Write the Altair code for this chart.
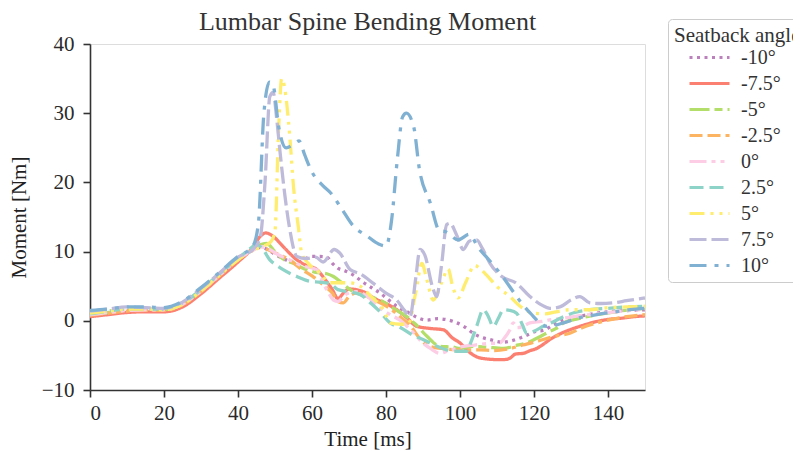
import altair as alt
import pandas as pd

SERIES = ["-10°", "-7.5°", "-5°", "-2.5°", "0°", "2.5°", "5°", "7.5°", "10°"]
COLORS = ["#bc80bd", "#fb8072", "#b3de69", "#fdb462", "#fccde5",
          "#8dd3c7", "#ffed6f", "#bebada", "#80b1d3"]
DASHES = [[3, 4.5], [1, 0], [20, 5, 8, 5], [13, 5, 13, 5, 4, 5], [17, 5, 4, 5, 4, 5],
          [14, 6], [15, 6, 3, 6, 3, 6], [17, 5], [17, 8, 4, 8]]

X_TICKS = [0, 20, 40, 60, 80, 100, 120, 140]
Y_TICKS = [-10, 0, 10, 20, 30, 40]

# -10 deg
T_N10 = [0, 5, 10, 15, 20, 25, 30, 35, 40, 44, 46, 48, 50, 53, 55.5, 58, 59.5, 62, 64, 65.5, 67, 69,
         71.2, 74, 78.4, 82.9, 86, 88, 91, 94, 96, 98.2, 101, 103.6, 105.4, 108, 111.7, 114.5, 117.1,
         120.7, 122.5, 125.2, 128, 132, 137, 142, 146, 150]
M_N10 = [0.9, 1.2, 1.5, 1.6, 1.6, 2.4, 4.4, 6.6, 8.9, 10.2, 10.6, 10.3, 9.6, 8.8, 8.4, 8.8, 9.3, 9.3,
         9.2, 8.3, 7.6, 7.2, 6.6, 5.5, 4.0, 2.1, 1.2, 0.6, 0.1, 0.3, 0.2, -0.1, -0.8, -1.8, -2.3, -2.7,
         -3.1, -2.8, -2.3, -1.5, -1.4, -0.6, 0.1, 0.6, 1.1, 1.4, 1.5, 1.6]
# -7.5 deg
T_N75 = [0, 5, 10, 15, 20, 25, 30, 35, 40, 44, 46, 47.5, 49.5, 51.4, 53.5, 55.9, 58.5, 61.3, 63.5,
         65.5, 67, 68.5, 70, 73.9, 77, 80, 82.9, 85.5, 88.3, 91.9, 95.5, 98, 100, 102, 104.5, 107,
         109.9, 112, 113.5, 115, 117.1, 119, 120.7, 122.5, 124.3, 127, 129.7, 133, 137, 140, 144.1,
         147, 150]
M_N75 = [0.6, 0.9, 1.2, 1.3, 1.3, 2.0, 3.9, 6.2, 8.5, 10.6, 12.2, 12.7, 12.2, 11.2, 10.0, 8.8, 8.0,
         7.4, 6.0, 4.5, 3.2, 4.0, 4.6, 4.2, 3.2, 2.5, 1.6, 0.5, -0.8, -1.1, -1.3, -2.5, -3.2, -4.3,
         -5.2, -5.5, -5.6, -5.6, -5.4, -4.8, -4.7, -4.3, -4.0, -3.4, -2.7, -1.9, -1.3, -0.7, -0.1,
         0.2, 0.4, 0.6, 0.7]
# -5 deg
T_N5 = [0, 5, 10, 15, 20, 25, 30, 35, 40, 44, 46, 47.7, 50, 52, 55, 58, 61, 64, 65.8, 68, 70.3, 73,
        75, 78.4, 82, 85.6, 88, 91, 94.6, 98, 100, 103.6, 107, 111.7, 115, 118, 121.6, 124, 126, 128,
        132, 137, 142, 146, 150]
M_N5 = [0.9, 1.2, 1.5, 1.6, 1.6, 2.4, 4.4, 6.7, 8.9, 10.3, 11.0, 11.2, 10.0, 9.0, 8.3, 7.5, 7.0, 6.8,
        6.4, 5.5, 4.5, 3.8, 3.5, 3.0, 1.8, 0.6, -0.5, -2.2, -3.7, -3.8, -4.0, -3.7, -3.8, -4.0, -3.6,
        -3.2, -2.3, -1.6, -1.1, -0.3, 0.3, 0.9, 1.3, 1.6, 1.8]
# -2.5 deg
T_N25 = [0, 5, 10, 15, 20, 25, 30, 35, 40, 44, 46, 48, 51.4, 54, 57, 60, 63, 65.5, 67, 68.5, 70, 72,
         75, 78, 81, 84, 87, 89, 91.9, 95, 99, 102, 105.4, 109, 113.5, 117, 120, 122.5, 126, 129.7,
         133, 137, 141, 145, 150]
M_N25 = [0.8, 1.1, 1.4, 1.5, 1.5, 2.3, 4.2, 6.5, 8.8, 10.2, 10.8, 10.3, 9.5, 8.8, 7.5, 6.5, 5.2, 4.0,
         2.8, 2.6, 3.5, 4.0, 3.5, 2.7, 1.8, 0.5, -1.0, -2.5, -3.7, -4.0, -4.2, -4.2, -4.2, -4.3, -4.0,
         -3.5, -3.1, -2.7, -2.2, -1.8, -1.0, -0.3, 0.2, 0.6, 0.9]
# 0 deg
T_0 = [0, 5, 10, 15, 20, 25, 30, 35, 40, 44, 46, 48.6, 51, 54, 57, 61.3, 63, 64.5, 65.8, 67, 69, 72,
       75, 78, 81.1, 84, 87, 90, 92, 94.6, 97, 101, 104, 107, 110.8, 112, 113.5, 114.4, 115.5, 117,
       118.9, 122, 125, 128, 132, 137, 142, 146, 150]
M_0 = [0.9, 1.2, 1.5, 1.6, 1.6, 2.4, 4.3, 6.6, 8.9, 10.2, 10.7, 10.3, 9.5, 8.8, 8.0, 7.4, 5.5, 4.0,
       3.0, 2.8, 3.8, 4.2, 3.5, 2.0, 0.9, 0.0, -1.5, -3.2, -4.0, -4.7, -4.3, -3.7, -3.5, -3.3, -3.2,
       -2.5, -1.3, -0.3, -1.0, -0.8, -0.3, -0.1, 0.2, 0.4, 0.7, 1.0, 1.3, 1.5, 1.6]
# 2.5 deg
T_25 = [0, 5, 10, 15, 20, 25, 30, 35, 40, 43, 45, 46.5, 48.6, 50.5, 52.2, 55.9, 59.5, 62, 64.9, 67,
        70, 73, 76, 78, 81.1, 84, 87, 90, 93, 96.4, 99, 101.8, 103, 104.5, 106.3, 107.5, 109, 110.5,
        111.7, 113.5, 115.3, 116.8, 118, 120, 122.5, 125, 128, 131, 135.1, 140, 145, 150]
M_25 = [1.0, 1.4, 1.7, 1.7, 1.7, 2.6, 4.5, 6.8, 9.0, 10.3, 11.0, 10.5, 8.8, 8.0, 7.4, 6.4, 5.7, 5.6,
        5.4, 4.5, 4.2, 3.8, 2.5, 1.5, -0.3, -1.0, -2.0, -2.7, -3.5, -4.2, -4.4, -4.4, -3.0, -0.8, 1.6,
        0.8, -0.8, 0.5, 1.6, 1.5, 1.1, -0.5, -1.8, -1.5, -0.8, -0.2, 0.6, 1.2, 1.6, 1.8, 2.0, 2.1]
# 5 deg
T_5 = [0, 5, 10, 15, 20, 25, 30, 35, 40, 44, 47, 49, 50, 51, 51.8, 52.5, 54, 55, 56.3, 57.2, 59, 62,
       64.9, 68, 70, 73, 76, 79.3, 81.1, 84, 86, 88, 89.7, 91, 92.8, 95, 96.8, 98, 99.5, 101.5, 104,
       105.5, 107.2, 109.9, 113.5, 116.5, 119.8, 123, 126, 129.7, 135, 140, 145, 150]
M_5 = [1.1, 1.4, 1.7, 1.7, 1.6, 2.4, 4.3, 6.6, 8.8, 10.2, 10.8, 11.5, 13.0, 28.0, 35.0, 34.0, 26.6,
       19.4, 13.6, 9.8, 8.3, 7.0, 5.5, 5.5, 5.5, 5.0, 3.5, 1.6, -0.3, -0.5, -0.5, 4.0, 8.3, 6.0, 3.0,
       5.5, 7.5, 5.0, 3.3, 5.5, 8.0, 7.5, 6.6, 5.0, 3.5, 2.0, 1.1, 1.0, 1.3, 1.6, 1.6, 1.9, 2.0, 2.1]
# 7.5 deg
T_75 = [0, 5, 10, 15, 20, 25, 30, 35, 40, 44, 46, 47.3, 48.6, 49.5, 50.5, 51.4, 52.7, 54, 55.9, 58.6,
        61, 63, 66, 67.5, 70.3, 73, 76.6, 80, 82.9, 85, 86.5, 88, 89.2, 90.5, 92.5, 93.7, 95, 96.4,
        97.3, 99, 100.9, 102.5, 104.5, 106, 108.1, 111, 115.3, 118.9, 122, 124.3, 127, 130, 132.4,
        135.1, 138, 141.4, 145, 150]
M_75 = [1.4, 1.7, 2.0, 1.9, 1.8, 2.7, 4.7, 6.9, 9.2, 10.3, 12.0, 20.0, 32.4, 33.0, 29.0, 24.2, 18.0,
        13.2, 9.3, 9.0, 9.2, 8.5, 10.3, 9.8, 7.4, 6.8, 5.4, 4.0, 3.0, 1.5, 0.6, 6.0, 10.3, 9.5, 5.0,
        3.5, 8.0, 13.9, 14.1, 12.5, 10.3, 11.5, 11.7, 10.5, 8.3, 6.5, 5.4, 3.5, 2.3, 1.8, 2.0, 3.0,
        3.5, 2.6, 2.5, 2.6, 2.9, 3.3]
# 10 deg
T_10 = [0, 5, 10, 15, 20, 25, 30, 35, 40, 44, 45.5, 47, 48.5, 49.5, 51, 53, 55, 56.5, 58, 60, 63, 65,
        68, 71, 75, 78, 80, 81.5, 83, 84.5, 85.5, 87.5, 89, 92, 94.5, 96, 99.5, 102.5, 105, 107,
        111.5, 116, 119, 123.5, 128, 132, 137, 142, 146, 150]
M_10 = [1.5, 1.7, 2.0, 2.0, 1.9, 2.8, 4.8, 7.0, 9.3, 10.8, 14.0, 30.0, 34.5, 34.0, 28.0, 25.0, 25.5,
        26.0, 24.0, 21.5, 19.5, 18.5, 16.2, 13.8, 12.2, 11.1, 10.8, 14.5, 23.0, 29.5, 30.0, 28.0,
        22.0, 17.0, 13.0, 12.9, 11.7, 12.5, 10.5, 9.3, 6.4, 3.0, 1.1, -0.8, -0.3, 0.4, 0.9, 1.3, 1.6,
        1.8]

TIMES = [T_N10, T_N75, T_N5, T_N25, T_0, T_25, T_5, T_75, T_10]
MOMENTS = [M_N10, M_N75, M_N5, M_N25, M_0, M_25, M_5, M_75, M_10]

rows = []
for name, ts, ms in zip(SERIES, TIMES, MOMENTS):
    for t, m in zip(ts, ms):
        rows.append({"t": t, "m": m, "angle": name})
df = pd.DataFrame(rows)

FONT = "Liberation Serif"

legend = alt.Legend(title="Seatback angle", orient="none", legendX=578, legendY=-25)

chart = alt.Chart(df).mark_line(strokeWidth=3.3, interpolate="monotone", clip=True).encode(
    x=alt.X("t:Q", scale=alt.Scale(domain=[0, 150], nice=False),
            axis=alt.Axis(title="Time [ms]", values=X_TICKS, format="d", labelPadding=5,
                          titlePadding=5)),
    y=alt.Y("m:Q", scale=alt.Scale(domain=[-10, 40], nice=False),
            axis=alt.Axis(title="Moment [Nm]", values=Y_TICKS, format="d", labelPadding=9,
                          titlePadding=12)),
    color=alt.Color("angle:N", scale=alt.Scale(domain=SERIES, range=COLORS), legend=legend),
    strokeDash=alt.StrokeDash("angle:N", scale=alt.Scale(domain=SERIES, range=DASHES), legend=legend),
    order=alt.Order("t:Q"),
).properties(
    width=555,
    height=346,
    title=alt.TitleParams("Lumbar Spine Bending Moment", frame="group", offset=12, dy=28),
    autosize=alt.AutoSizeParams(type="none"),
    padding={"left": 82, "top": 36, "right": 148, "bottom": 60},
).configure(
    font=FONT,
).configure_view(
    stroke="#dddddd", strokeWidth=1,
).configure_axis(
    grid=False, domainColor="#333333", domainWidth=1.6, tickColor="#333333", tickWidth=1.6,
    tickSize=7, labelFont=FONT, labelFontSize=21, labelColor="#2a2a2a",
    titleFont=FONT, titleFontSize=21, titleFontWeight="normal", titleColor="#222222",
).configure_legend(
    padding=6, strokeColor="#cccccc", fillColor="white", cornerRadius=4,
    titleFont=FONT, titleFontSize=21, titleFontWeight="normal", titleColor="#333333",
    titlePadding=0, titleLimit=400,
    labelFont=FONT, labelFontSize=20, labelColor="#333333",
    symbolType="M-2,0H2", symbolSize=400, symbolStrokeWidth=3,
    symbolOffset=24, labelOffset=20, rowPadding=4,
).configure_title(
    font=FONT, fontSize=26, fontWeight="normal", color="#333333", anchor="middle",
)

chart.save("out.html", embed_options={"renderer": "svg", "actions": False})
